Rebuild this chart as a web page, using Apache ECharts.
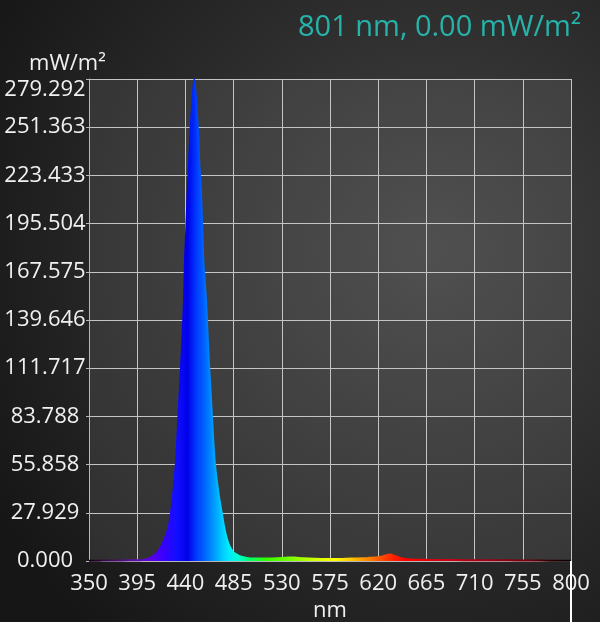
<!DOCTYPE html>
<html><head><meta charset="utf-8">
<script src="https://cdn.jsdelivr.net/npm/echarts@6/dist/echarts.min.js"></script>
<style>html,body{margin:0;padding:0;background:#1e1e1e}#c{width:600px;height:622px}</style>
</head><body><div id="c"></div>
<script>
// ---- data ----
const wavelengths = [350,360,370,380,390,398,403,407,410,413,416,419,422,424.5,426.5,428.5,431,432.5,434.3,436.5,438.7,439.6,441,442.1,443.5,445,446.7,448.3,449.8,451.5,453,454.6,456.7,459.2,461.5,463.9,466,467.6,470.7,473.9,477,480,483,485.6,490,495,500,510,520,530,537,542,550,560,570,580,590,600,610,620,626,631,636,642,650,665,680,700,720,740,760,780,800];
const irradiance  = [0.1,0.2,0.3,0.3,0.4,0.5,0.9,1.8,3.0,4.6,7.0,10.4,15,20,27.8,38,55.8,72,93.5,120,151.4,174.6,195,213,232,251.8,268,279.292,268,251.8,230,213,174.6,151.4,120,93.5,70,55.8,40,27.8,17,10.4,6.5,4.6,3.0,2.0,1.5,1.4,1.5,1.7,2.1,2.0,1.6,1.3,1.2,1.1,1.3,1.5,1.8,2.2,3.0,3.8,2.8,1.5,0.9,0.7,0.6,0.5,0.4,0.4,0.3,0.2,0.1];
const xTickLabels = [350,395,440,485,530,575,620,665,710,755,800];
const yTickLabels = ['0.000','27.929','55.858','83.788','111.717','139.646','167.575','195.504','223.433','251.363','279.292'];
const yMax = 279.292;
const cursorNm = 801;
const cursorValue = 0.00;
const spectrumNm     = [350,362,380,395,408,420,432,442,450,460,470,480,490,500,515,540,560,580,600,615,630,645,680,720,760,782,800];
const spectrumColors = ['#000000','#2a0838','#4a1070','#6010a8','#5a00e8','#3800ff','#1010ff','#0000e8','#0038ff','#0070ff','#00b0ff','#00e8ff','#00ffd0','#00ff70','#30ff00','#80ff00','#d0ff00','#ffff00','#ffb000','#ff7000','#ff3000','#ff0000','#d00010','#a00018','#700010','#200000','#000000'];

// ---- build ----
const x0 = xTickLabels[0];
const xSpan = xTickLabels[xTickLabels.length-1] - x0;
const xStep = xTickLabels[1] - xTickLabels[0];
const seriesData = wavelengths.map((w,i)=>[w - x0, irradiance[i]]);
const stops = spectrumNm.map((w,i)=>({offset:(w - x0)/xSpan, color:spectrumColors[i]}));
const grad = () => new echarts.graphic.LinearGradient(0,0,1,0,stops);

const chart = echarts.init(document.getElementById('c'), null, {renderer:'canvas'});
const FONT = 'Open Sans';
chart.setOption({
  backgroundColor: {type:'radial', x:0.72, y:0.4, r:0.85,
    colorStops:[{offset:0,color:'#444444'},{offset:1,color:'#161616'}]},
  animation:false,
  title:{text: cursorNm + ' nm, ' + cursorValue.toFixed(2) + ' mW/m\u00b2', right:14, top:8,
    textStyle:{color:'#26b3a9', fontFamily:FONT, fontSize:29, fontWeight:'normal'}},
  grid:{left:89, right:29, top:79, bottom:61, show:true, backgroundColor:'rgba(128,128,128,0.2)', borderWidth:0, outerBoundsMode:'none'},
  xAxis:{type:'value', min:0, max:xSpan, interval:xStep,
    name:'nm', nameLocation:'middle', nameGap:31,
    nameTextStyle:{color:'#f0f0f0', fontFamily:FONT, fontSize:22},
    axisLine:{show:true, lineStyle:{color:'#b8b8b8', width:1}},
    axisTick:{show:false},
    axisLabel:{color:'#f0f0f0', fontFamily:FONT, fontSize:22, margin:12,
      formatter:v=>{const k=Math.round(v/xStep); return String(xTickLabels[k] ?? '');}},
    splitLine:{show:true, lineStyle:{color:'#c4c4c4', width:1}}},
  yAxis:{type:'value', min:0, max:yMax, interval:yMax/10,
    name:'mW/m\u00b2', nameLocation:'end', nameGap:4,
    nameTextStyle:{color:'#f0f0f0', fontFamily:FONT, fontSize:22, align:'center', padding:[0,43,0,0]},
    axisLine:{show:true, lineStyle:{color:'#b8b8b8', width:1}},
    axisTick:{show:true, length:3, lineStyle:{color:'#b8b8b8'}},
    axisLabel:{color:'#f0f0f0', fontFamily:FONT, fontSize:22, align:'center', margin:44,
      verticalAlignMaxLabel:'top',
      formatter:v=>{const k=Math.round(v/(yMax/10)); return yTickLabels[k] ?? '';}},
    splitLine:{show:true, lineStyle:{color:'#c4c4c4', width:1}}},
  series:[{type:'line', data:seriesData, symbol:'none', smooth:0.3,
    lineStyle:{width:2, color:grad()},
    areaStyle:{color:grad(), opacity:1},
    z:3}]
});
// cursor line below the axis
const cx = chart.convertToPixel({xAxisIndex:0}, Math.min(cursorNm, xTickLabels[xTickLabels.length-1]) - x0);
const cy = chart.convertToPixel({yAxisIndex:0}, 0);
chart.setOption({graphic:[{type:'line', shape:{x1:cx, y1:cy, x2:cx, y2:622}, style:{stroke:'#ffffff', lineWidth:2}, z:10}]});
</script></body></html>
